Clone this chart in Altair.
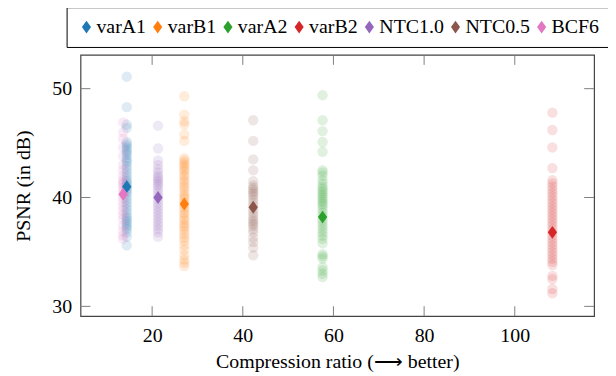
import altair as alt
import pandas as pd

series = ["varA1", "varB1", "varA2", "varB2", "NTC1.0", "NTC0.5", "BCF6"]
colors = ["#1f77b4", "#ff7f0e", "#2ca02c", "#d62728", "#9467bd", "#8c564b", "#e377c2"]
ratios = [14.4, 27.1, 57.6, 108.3, 21.3, 42.3, 13.6]
means = [41.0, 39.4, 38.2, 36.8, 40.0, 39.1, 40.3]

psnr_varA1 = [51.1, 48.3, 46.7, 46.4, 45.1, 44.9, 44.7, 44.5, 44.3, 44.1, 43.9, 43.6, 43.4,
              43.2, 42.9, 42.6, 42.3, 42.0, 41.7, 41.5, 41.3, 41.1, 41.0, 40.8, 40.6, 40.4,
              40.1, 39.8, 39.5, 39.2, 38.9, 38.6, 38.3, 38.1, 37.9, 37.7, 37.5, 37.3, 37.1,
              36.8, 36.4, 35.6]
psnr_varB1 = [49.3, 47.6, 47.0, 46.7, 45.8, 45.2, 43.6, 43.4, 43.2, 43.0, 42.8, 42.6, 42.4,
              42.1, 41.9, 41.6, 41.4, 41.1, 40.9, 40.6, 40.3, 40.1, 39.9, 39.6, 39.4, 39.1,
              38.9, 38.6, 38.4, 38.1, 37.9, 37.6, 37.4, 37.2, 36.9, 36.6, 36.3, 36.0, 35.6,
              35.2, 34.7, 34.3, 34.0, 33.7]
psnr_varA2 = [49.4, 47.1, 46.1, 45.1, 44.2, 42.5, 42.3, 42.0, 41.6, 41.3, 41.0, 40.8, 40.6,
              40.4, 40.2, 40.0, 39.8, 39.6, 39.4, 39.2, 38.9, 38.6, 38.3, 38.0, 37.7, 37.4,
              37.1, 36.8, 36.5, 36.2, 35.8, 34.8, 34.6, 34.4, 33.6, 33.3, 33.0, 32.7]
psnr_varB2 = [47.8, 46.2, 44.6, 42.7, 41.6, 41.3, 41.0, 40.7, 40.4, 40.1, 39.8, 39.5, 39.2,
              38.9, 38.6, 38.3, 38.0, 37.7, 37.4, 37.1, 36.8, 36.5, 36.2, 35.9, 35.6, 35.3,
              35.0, 34.7, 34.4, 34.1, 33.8, 32.8, 32.5, 31.6, 31.2]
psnr_ntc10 = [46.6, 44.5, 43.4, 43.0, 42.6, 42.3, 42.0, 41.8, 41.6, 41.4, 41.2, 41.0, 40.7,
              40.4, 40.1, 39.8, 39.5, 39.2, 38.9, 38.6, 38.3, 38.0, 37.7, 37.4, 37.1, 36.8,
              36.4]
psnr_ntc05 = [47.1, 45.2, 43.5, 42.5, 41.5, 41.1, 40.9, 40.7, 40.5, 40.3, 40.1, 39.8, 39.5,
              39.2, 38.9, 38.6, 38.3, 38.0, 37.8, 37.6, 37.4, 37.1, 36.8, 36.3, 35.9, 35.4,
              34.7]
psnr_bcf6 = [46.9, 46.0, 45.4, 44.6, 43.8, 43.0, 42.5, 42.0, 41.6, 41.4, 41.2, 40.9, 40.6,
             40.3, 40.0, 39.6, 39.2, 38.8, 38.4, 38.0, 37.4, 36.9, 36.5, 36.2]

x_ticks = [20, 40, 60, 80, 100]
y_ticks = [30, 40, 50]

all_vals = [psnr_varA1, psnr_varB1, psnr_varA2, psnr_varB2, psnr_ntc10, psnr_ntc05, psnr_bcf6]
rows = []
for name, r, vals in zip(series, ratios, all_vals):
    for v in vals:
        rows.append({"method": name, "ratio": r, "psnr": v})
points = pd.DataFrame(rows)
mean_df = pd.DataFrame({"method": series, "ratio": ratios, "psnr": means})
xt = pd.DataFrame({"ratio": x_ticks})
yt = pd.DataFrame({"psnr": y_ticks})

W, H = 517, 263
FONT = "Liberation Serif, 'Times New Roman', Times, serif"
xscale = alt.Scale(domain=[4.2, 117.5], nice=False, zero=False)
yscale = alt.Scale(domain=[29.1, 53.1], nice=False, zero=False)
cscale = alt.Scale(domain=series, range=colors)
diamond = "M0,-1L0.72,0L0,1L-0.72,0Z"
diamond_big = "M0,-2.05L1.45,0L0,2.05L-1.45,0Z"

xaxis = alt.Axis(values=x_ticks, domain=False, ticks=False, grid=False, labelPadding=10,
                 titlePadding=6, labelFlush=False)
yaxis = alt.Axis(values=y_ticks, domain=False, ticks=False, grid=False, labelPadding=9,
                 titlePadding=18)

def X():
    return alt.X("ratio:Q", scale=xscale, axis=xaxis, title="Compression ratio (\u27f6 better)")

def Y():
    return alt.Y("psnr:Q", scale=yscale, axis=yaxis, title="PSNR (in dB)")

legend = alt.Legend(title=None, orient="none", legendX=-14, legendY=-48,
                    direction="horizontal", columns=7, symbolType=diamond_big, symbolSize=40,
                    symbolOpacity=1, symbolStrokeWidth=0, labelFont=FONT, labelFontSize=20,
                    labelColor="black", labelOffset=0, columnPadding=1.7, padding=10,
                    strokeColor="black", fillColor="white")

def C():
    return alt.Color("method:N", scale=cscale, legend=legend)

TL = 10
tick_color = "#808080"
bottom_ticks = alt.Chart(xt).mark_rule(color=tick_color, strokeWidth=1).encode(
    x=X(), y=alt.value(H), y2=alt.value(H - TL))
top_ticks = alt.Chart(xt).mark_rule(color=tick_color, strokeWidth=1).encode(
    x=X(), y=alt.value(0), y2=alt.value(TL))
left_ticks = alt.Chart(yt).mark_rule(color=tick_color, strokeWidth=1).encode(
    y=Y(), x=alt.value(0), x2=alt.value(TL))
right_ticks = alt.Chart(yt).mark_rule(color=tick_color, strokeWidth=1).encode(
    y=Y(), x=alt.value(W), x2=alt.value(W - TL))

scatter = alt.Chart(points).mark_circle(size=110, opacity=0.15).encode(
    x=X(), y=Y(), color=C())

mean_layer = alt.Chart(mean_df).mark_point(shape=diamond, size=169, filled=True,
                                            opacity=1, strokeWidth=0).encode(
    x=X(), y=Y(), color=C())

chart = alt.layer(bottom_ticks, top_ticks, left_ticks, right_ticks, scatter, mean_layer).properties(
    width=W, height=H,
    autosize=alt.AutoSizeParams(type="none"),
    padding={"left": 73, "top": 46, "right": 14, "bottom": 58},
).configure_view(stroke="#444444", strokeWidth=1.2).configure_axis(
    labelFont=FONT, labelFontSize=20, labelColor="black",
    titleFont=FONT, titleFontSize=20, titleFontWeight="normal", titleColor="black",
).configure_legend(labelFont=FONT)

chart.save("out.html", embed_options={"renderer": "svg", "actions": False})
